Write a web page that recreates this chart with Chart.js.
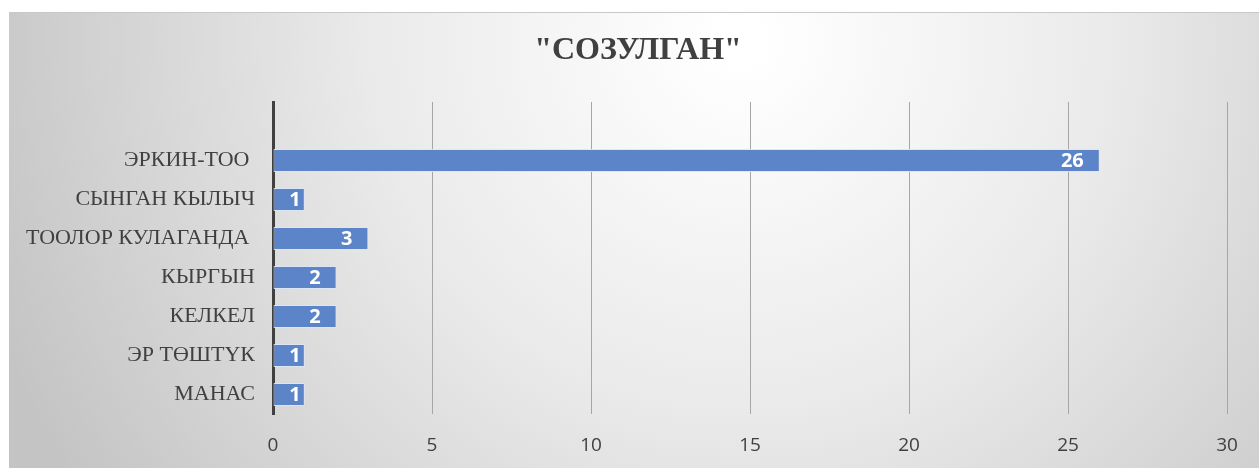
<!DOCTYPE html>
<html>
<head>
<meta charset="utf-8">
<script src="https://cdn.jsdelivr.net/npm/chart.js@4"></script>
<style>
    html, body { margin: 0; padding: 0; background: #ffffff; }
    #wrap { width: 1259px; height: 468px; position: relative; }
</style>
</head>
<body>
<div id="wrap"><canvas id="novelChart"></canvas></div>
<script>
// Categories top to bottom (first one is an empty row in the source sheet)
const novels = ['', 'ЭРКИН-ТОО ', 'СЫНГАН КЫЛЫЧ', 'ТООЛОР КУЛАГАНДА ', 'КЫРГЫН', 'КЕЛКЕЛ', 'ЭР ТӨШТҮК', 'МАНАС'];
const counts = [null, 26, 1, 3, 2, 2, 1, 1];
const xTicks = [0, 5, 10, 15, 20, 25, 30];
const chartTitle = '"СОЗУЛГАН"';

const serifFont = "'Liberation Serif', 'Times New Roman', serif";
const sansFont = "'Open Sans', 'Liberation Sans', sans-serif";

// Gray-to-white gradient panel behind the chart
const panelBackground = {
    id: 'panelBackground',
    beforeDraw(chart) {
        const ctx = chart.ctx;
        ctx.save();
        const g = ctx.createRadialGradient(740, 40, 20, 740, 40, 800);
        g.addColorStop(0, '#ffffff');
        g.addColorStop(0.45, '#eaeaea');
        g.addColorStop(1, '#c4c4c4');
        ctx.fillStyle = g;
        ctx.fillRect(9, 12, 1250, 456);
        ctx.strokeStyle = '#c8c8c8';
        ctx.lineWidth = 1;
        ctx.beginPath();
        ctx.moveTo(9, 12.5);
        ctx.lineTo(1259, 12.5);
        ctx.stroke();
        ctx.restore();
    }
};

// The title in the original sits a bit right of the canvas centre
const shiftTitle = {
    id: 'shiftTitle',
    afterLayout(chart) {
        if (chart.titleBlock) chart.titleBlock.left += 49;
    }
};

// White value labels inside the bar ends
const barLabels = {
    id: 'barLabels',
    afterDatasetsDraw(chart) {
        const ctx = chart.ctx;
        const meta = chart.getDatasetMeta(0);
        ctx.save();
        ctx.font = 'bold 20px ' + sansFont;
        ctx.fillStyle = '#ffffff';
        ctx.textAlign = 'right';
        ctx.textBaseline = 'middle';
        meta.data.forEach((bar, i) => {
            const v = counts[i];
            if (v === null) return;
            const width = bar.x - bar.base;
            const inset = width < 40 ? 4 : 16;
            ctx.fillText(String(v), bar.x - inset, bar.y + 1);
        });
        ctx.restore();
    }
};

function drawChart() {
    const ctx = document.getElementById('novelChart').getContext('2d');
    new Chart(ctx, {
        type: 'bar',
        data: {
            labels: novels,
            datasets: [{
                data: counts,
                backgroundColor: '#5b84c9',
                borderColor: 'rgba(220, 230, 245, 0.9)',
                borderWidth: 1,
                borderSkipped: false,
                barPercentage: 0.59,
                categoryPercentage: 1
            }]
        },
        options: {
            indexAxis: 'y',
            responsive: true,
            maintainAspectRatio: false,
            animation: false,
            layout: {
                padding: { top: 32, right: 32, bottom: 0, left: 0 }
            },
            plugins: {
                legend: { display: false },
                tooltip: { enabled: false },
                title: {
                    display: true,
                    text: chartTitle,
                    color: '#404040',
                    font: { family: serifFont, size: 32, weight: 'bold', lineHeight: 1.2 },
                    padding: { top: 0, bottom: 31.6 }
                }
            },
            scales: {
                x: {
                    min: 0,
                    max: 30,
                    afterBuildTicks: axis => {
                        axis.ticks = xTicks.map(v => ({ value: v }));
                    },
                    afterFit: axis => { axis.height = 54; },
                    grid: {
                        color: '#a6a6a6',
                        lineWidth: 1,
                        drawTicks: false
                    },
                    border: { display: false },
                    ticks: {
                        color: '#404040',
                        padding: 20,
                        font: { family: sansFont, size: 19 }
                    }
                },
                y: {
                    afterFit: axis => { axis.width = 273; },
                    grid: { display: false, drawTicks: false },
                    border: { display: true, color: '#404040', width: 3 },
                    ticks: {
                        color: '#404040',
                        padding: 18,
                        font: { family: serifFont, size: 22 }
                    }
                }
            }
        },
        plugins: [panelBackground, shiftTitle, barLabels]
    });
}

Promise.all([
    document.fonts.load('22px "Liberation Serif"', 'СОЗУЛГАН'),
    document.fonts.load('bold 32px "Liberation Serif"', 'СОЗУЛГАН'),
    document.fonts.load('19px "Open Sans"', '0123'),
    document.fonts.load('bold 20px "Open Sans"', '0123')
]).then(drawChart, drawChart);
</script>
</body>
</html>
